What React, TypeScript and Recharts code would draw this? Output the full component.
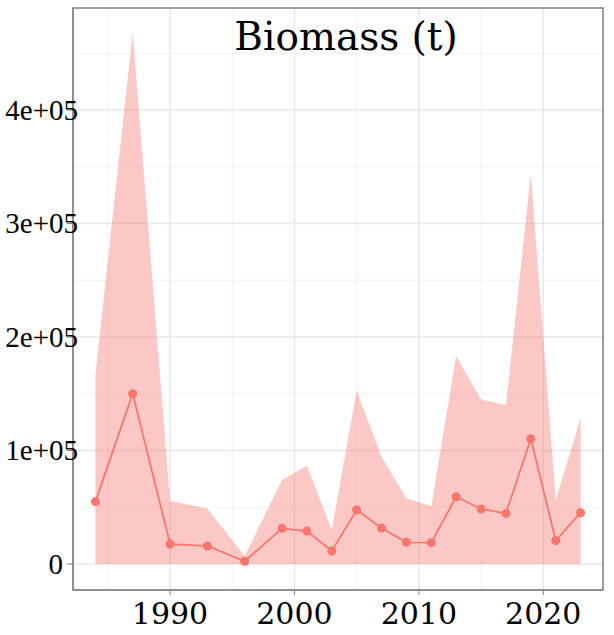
import React from 'react';
import { ComposedChart, Area, Line, XAxis, YAxis, CartesianGrid, ReferenceArea, Text } from 'recharts';

// survey years and biomass estimates (t)
const years = [1984, 1987, 1990, 1993, 1996, 1999, 2001, 2003, 2005, 2007, 2009, 2011, 2013, 2015, 2017, 2019, 2021, 2023];
const biomass = [55000, 150000, 17600, 15900, 2400, 31400, 29000, 11500, 47600, 31700, 19100, 18800, 59300, 48500, 44600, 110400, 20600, 45200];
const upper = [167000, 468000, 55500, 49000, 7000, 74000, 86600, 30000, 152700, 94500, 57900, 51100, 183000, 145000, 140000, 343600, 56400, 128400];

const xTicks = [1990, 2000, 2010, 2020];
const xMinor = [1985, 1995, 2005, 2015];
const yTicks = [0, 100000, 200000, 300000, 400000];
const yMinor = [50000, 150000, 250000, 350000, 450000];

const xDomain: [number, number] = [1982.2, 2024.8];
const yDomain: [number, number] = [-22900, 489900];

const RED = '#F8766D';

const chartData = years.map((year, i) => ({
  year,
  value: biomass[i],
  upper: upper[i],
}));

const fmtY = (v: number) => (v === 0 ? '0' : `${v / 100000}e+05`);

const YTick = ({ x, y, payload }: any) => {
  const label = fmtY(payload.value);
  // wide labels run over the axis line in the original
  const right = label.length > 1 ? x + 13 : x - 2;
  return (
    <text x={right} y={y} dy="0.34em" textAnchor="end" fontFamily="Liberation Serif" fontSize={29} fill="#000">
      {label}
    </text>
  );
};

export default function App() {
  return (
    <div style={{ position: 'absolute', left: 0, top: 0, width: 614, height: 635, background: '#fff' }}>
      <ComposedChart width={614} height={635} data={chartData} margin={{ top: 8, right: 11, left: 0, bottom: 0 }}>
        <CartesianGrid stroke="#f3f3f3" strokeWidth={1} horizontalValues={yMinor} verticalValues={xMinor} />
        <CartesianGrid stroke="#e8e8e8" strokeWidth={1.5} horizontalValues={yTicks} verticalValues={xTicks} />
        <XAxis
          dataKey="year"
          type="number"
          domain={xDomain}
          ticks={xTicks}
          allowDataOverflow
          height={45}
          tickSize={5}
          tickMargin={8}
          stroke="#7f7f7f"
          tick={{ fontFamily: 'DejaVu Serif', fontSize: 30, fill: '#000' }}
        />
        <YAxis
          type="number"
          domain={yDomain}
          ticks={yTicks}
          allowDataOverflow
          width={73}
          tickSize={6}
          stroke="#7f7f7f"
          tick={<YTick />}
        />
        <Area
          dataKey="upper"
          baseValue={0}
          type="linear"
          stroke="none"
          fill={RED}
          fillOpacity={0.4}
          isAnimationActive={false}
        />
        <Line
          dataKey="value"
          type="linear"
          stroke={RED}
          strokeWidth={1.8}
          dot={{ r: 4.5, fill: RED, stroke: RED, strokeWidth: 0 }}
          activeDot={false}
          isAnimationActive={false}
        />
        <ReferenceArea
          x1={xDomain[0]}
          x2={xDomain[1]}
          y1={yDomain[0]}
          y2={yDomain[1]}
          fill="none"
          stroke="#7f7f7f"
          strokeWidth={1.5}
          ifOverflow="visible"
        />
        <Text x={346} y={50} textAnchor="middle" fontFamily="DejaVu Serif" fontSize={39} fill="#000">
          Biomass (t)
        </Text>
      </ComposedChart>
    </div>
  );
}
